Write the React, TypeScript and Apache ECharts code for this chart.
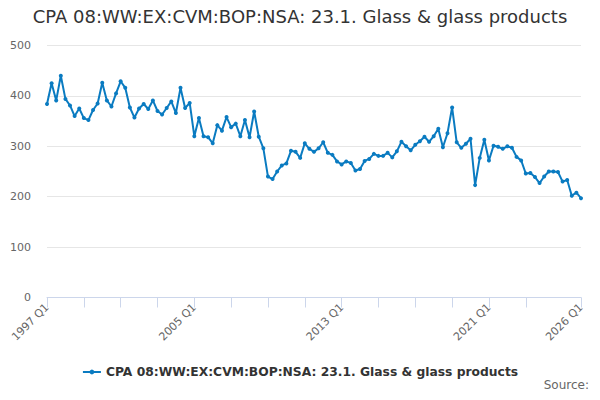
import React, { useEffect, useRef } from 'react';
import * as echarts from 'echarts';

const SERIES_NAME = 'CPA 08:WW:EX:CVM:BOP:NSA: 23.1. Glass & glass products';

// quarters 1997 Q1 .. 2026 Q1
const quarters: string[] = [];
for (let y = 1997; y <= 2026; y++) {
  for (let q = 1; q <= 4; q++) {
    if (y === 2026 && q > 1) break;
    quarters.push(`${y} Q${q}`);
  }
}

const values = [
  384, 425, 391, 440, 394, 381, 360, 375, 356, 352,
  372, 385, 426, 391, 379, 405, 429, 416, 377, 357,
  375, 384, 374, 391, 370, 363, 376, 389, 366, 416,
  376, 386, 320, 356, 320, 318, 306, 342, 331, 358,
  338, 345, 320, 352, 318, 369, 319, 296, 240, 235,
  250, 262, 266, 291, 289, 277, 306, 295, 289, 296,
  308, 287, 283, 270, 264, 270, 267, 252, 255, 271,
  275, 285, 281, 281, 287, 278, 290, 309, 300, 292,
  303, 310, 319, 309, 320, 335, 298, 326, 377, 308,
  297, 305, 315, 223, 277, 313, 272, 301, 299, 295,
  300, 297, 279, 272, 246, 247, 239, 227, 240, 250,
  250, 249, 230, 233, 202, 208, 197,
];

const tickQuarters = [
  '1997 Q1', '1999 Q1', '2001 Q1', '2003 Q1', '2005 Q1', '2007 Q1', '2009 Q1',
  '2011 Q1', '2013 Q1', '2015 Q1', '2017 Q1', '2019 Q1', '2021 Q1', '2023 Q1', '2026 Q1',
];
const labelQuarters = ['1997 Q1', '2005 Q1', '2013 Q1', '2021 Q1', '2026 Q1'];

const yTicks = [0, 100, 200, 300, 400, 500];

const FONT = 'DejaVu Sans';

const App: React.FC = () => {
  const chartRef = useRef<HTMLDivElement>(null);

  useEffect(() => {
    if (!chartRef.current) return;
    const chart = echarts.init(chartRef.current, undefined, { renderer: 'svg' });

    const option: echarts.EChartsOption = {
      animation: false,
      backgroundColor: '#ffffff',
      title: [
        {
          text: SERIES_NAME,
          left: 'center',
          top: 7,
          padding: 0,
          textStyle: { fontFamily: FONT, fontSize: 18, fontWeight: 'normal', color: '#333333' },
        },
        {
          text: 'Source:',
          right: 11,
          top: 379,
          padding: 0,
          textStyle: { fontFamily: FONT, fontSize: 12, fontWeight: 'normal', color: '#666666' },
        },
      ],
      grid: { left: 47, right: 19, top: 45.5, bottom: 102.5, containLabel: false },
      legend: {
        data: [SERIES_NAME],
        bottom: 17,
        left: 'center',
        itemWidth: 18,
        itemHeight: 6,
        textStyle: { fontFamily: FONT, fontSize: 12.3, fontWeight: 'bold', color: '#333333' },
      },
      xAxis: {
        type: 'category',
        data: quarters,
        boundaryGap: false,
        axisLine: { show: true, lineStyle: { color: '#ccd6eb' } },
        axisTick: {
          show: true,
          length: 10,
          lineStyle: { color: '#ccd6eb', width: 1 },
          customValues: tickQuarters.map((q) => quarters.indexOf(q)),
        },
        axisLabel: {
          rotate: 45,
          fontFamily: FONT,
          fontSize: 11,
          color: '#666666',
          margin: 8,
          customValues: labelQuarters.map((q) => quarters.indexOf(q)),
        },
        splitLine: { show: false },
      } as any,
      yAxis: {
        type: 'value',
        min: yTicks[0],
        max: yTicks[yTicks.length - 1],
        interval: 100,
        axisLine: { show: false },
        axisTick: { show: false },
        axisLabel: { fontFamily: FONT, fontSize: 11, color: '#666666', margin: 16 },
        splitLine: { lineStyle: { color: '#e6e6e6' } },
      },
      series: [
        {
          name: SERIES_NAME,
          type: 'line',
          data: values,
          symbol: 'circle',
          symbolSize: 4,
          showSymbol: true,
          showAllSymbol: true,
          itemStyle: { color: '#0a7bc1' },
          lineStyle: { color: '#0a7bc1', width: 2 },
        },
      ],
    };

    chart.setOption(option);
    return () => chart.dispose();
  }, []);

  return <div ref={chartRef} style={{ width: 600, height: 400, margin: -8 }} />;
};

export default App;
